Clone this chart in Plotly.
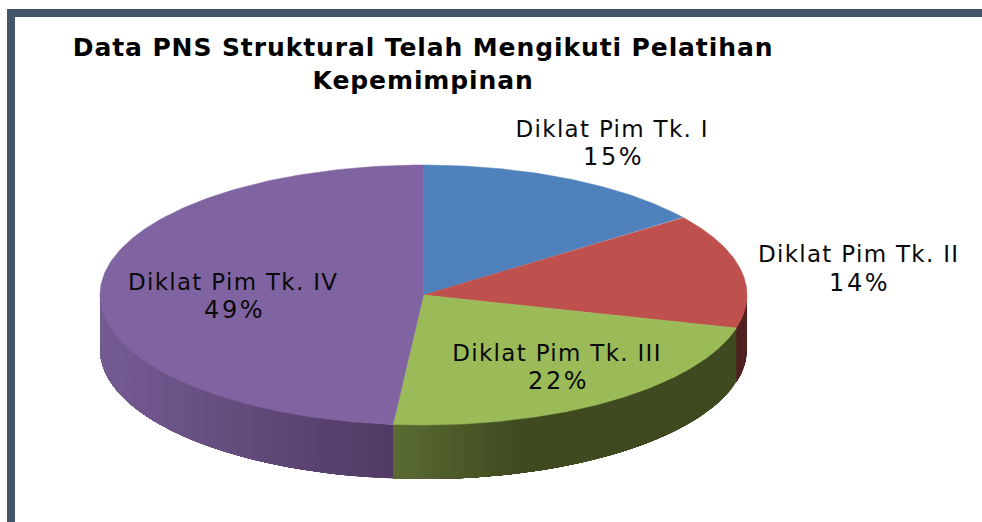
import numpy as np
import plotly.graph_objects as go

title_lines = ["Data PNS Struktural Telah Mengikuti Pelatihan", "Kepemimpinan"]
categories = ["Diklat Pim Tk. I", "Diklat Pim Tk. II", "Diklat Pim Tk. III", "Diklat Pim Tk. IV"]
values = [14.8, 14.3, 22.4, 48.5]
percent_labels = ["15%", "14%", "22%", "49%"]
top_colors = ["#4F81BD", "#BE504D", "#9BBB59", "#8064A2"]
side_right = [(60, 95, 140), (80, 32, 32), (63, 74, 32), (80, 58, 98)]
side_left = [(60, 95, 140), (80, 32, 32), (90, 107, 51), (117, 91, 148)]
label_name_xy = [(612, 129), (858, 254), (557, 353), (233, 282)]
label_pct_xy = [(613, 157), (859, 283), (558, 381), (234, 310)]

CX, CY, RX, RY, DEPTH = 423.5, 295.0, 323.5, 130.0, 54.0
FONT = "DejaVu Sans"


def px(theta):
    return CX + RX * np.sin(theta)


def py(theta):
    return CY - RY * np.cos(theta)


edges = np.concatenate([[0], np.cumsum(values)]) / sum(values) * 2 * np.pi
fig = go.Figure()

# side wall, only the front half of the rim is visible
for i in range(len(values)):
    a0 = max(edges[i], np.pi / 2)
    a1 = min(edges[i + 1], 3 * np.pi / 2)
    if a1 <= a0:
        continue
    steps = np.linspace(a0, a1, max(2, int((a1 - a0) / 0.025) + 1))
    x_left, x_right = px(a1), px(a0)
    for s0, s1 in zip(steps[:-1], steps[1:]):
        xm = px((s0 + s1) / 2)
        if i == 2:  # green: lighter at its left end, flat after the first stretch
            t = min(1.0, (xm - x_left) / 125)
        elif i == 3:  # purple: gradient over the full width
            t = (xm - x_left) / (x_right - x_left)
        else:
            t = 0.0
        c = [round(side_left[i][k] + (side_right[i][k] - side_left[i][k]) * t) for k in range(3)]
        col = f"rgb({c[0]},{c[1]},{c[2]})"
        # each band runs on to the end of the slice; the next band paints over it, leaving no seams
        th = np.linspace(s0, a1, 60)
        xs = np.concatenate([px(th), px(th[::-1])])
        ys = np.concatenate([py(th), py(th[::-1]) + DEPTH])
        fig.add_trace(go.Scatter(x=xs, y=ys, mode="lines", fill="toself", fillcolor=col,
                                 line=dict(width=0), hoverinfo="skip", showlegend=False))

# top face slices
for i in range(len(values)):
    th = np.linspace(edges[i], edges[i + 1], 200)
    xs = np.concatenate([[CX], px(th), [CX]])
    ys = np.concatenate([[CY], py(th), [CY]])
    fig.add_trace(go.Scatter(x=xs, y=ys, mode="lines", fill="toself", fillcolor=top_colors[i],
                             line=dict(color=top_colors[i], width=0.5), name=categories[i],
                             hoverinfo="name", showlegend=False))

ann = []
for line, y in zip(title_lines, [47, 80]):
    ann.append(dict(x=423, y=y, text=f"<b>{line}</b>", showarrow=False, xanchor="center", yanchor="middle",
                    font=dict(family=FONT, size=25, color="#000000")))
for name, pct, nxy, pxy in zip(categories, percent_labels, label_name_xy, label_pct_xy):
    ann.append(dict(x=nxy[0], y=nxy[1], text=name, showarrow=False, xanchor="center", yanchor="middle",
                    font=dict(family=FONT, size=23, color="#0a0a0a")))
    ann.append(dict(x=pxy[0], y=pxy[1], text=pct, showarrow=False, xanchor="center", yanchor="middle",
                    font=dict(family=FONT, size=24, color="#0a0a0a")))

frame = "#44546A"
shapes = [
    dict(type="rect", xref="x", yref="y", x0=7, x1=982, y0=9, y1=17, fillcolor=frame, line_width=0, layer="below"),
    dict(type="rect", xref="x", yref="y", x0=7, x1=15, y0=9, y1=522, fillcolor=frame, line_width=0, layer="below"),
]

fig.update_layout(
    width=982, height=522, margin=dict(l=0, r=0, t=0, b=0),
    paper_bgcolor="white", plot_bgcolor="white", showlegend=False,
    xaxis=dict(range=[0, 982], visible=False, fixedrange=True),
    yaxis=dict(range=[522, 0], visible=False, fixedrange=True),
    annotations=ann, shapes=shapes,
)
post = """
document.body.style.margin = '0';
document.documentElement.style.overflow = 'hidden';
document.querySelectorAll('.annotation-text').forEach(function (t) {
  var s = t.textContent;
  t.style.letterSpacing = s.indexOf('%') > 0 ? '2.6px' : (s.indexOf('Diklat') === 0 ? '1.3px' : '0.9px');
});
"""
fig.write_html("out.html", config=dict(displayModeBar=False), post_script=post)
